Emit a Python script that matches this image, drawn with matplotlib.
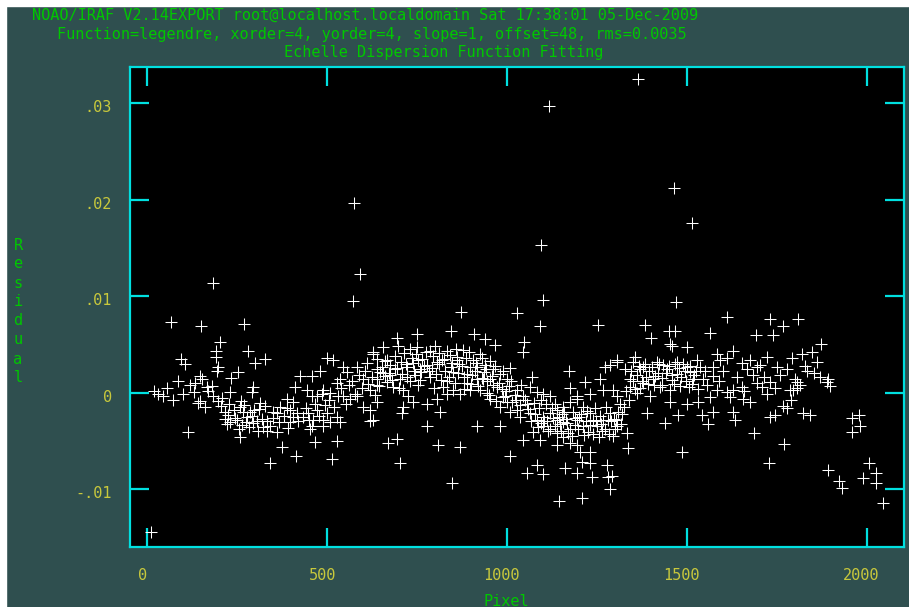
import matplotlib
matplotlib.use("Agg")
import matplotlib.pyplot as plt
from matplotlib.patches import Rectangle
from matplotlib.transforms import ScaledTranslation

# outliers (pixel, residual)
out_pix = [10, 575, 573, 591, 183, 67, 150, 270, 1365, 1117, 1464, 1095, 1514, 1101, 1471,
           872, 1028, 1092, 1253, 1612, 1565, 1384, 1401, 1451, 1468, 1732, 1768, 1810, 1693,
           1740, 1874, 1145, 1209, 1287, 847, 341, 414, 703, 1487, 1729, 1771, 1100, 1083,
           1056, 1162, 1237, 1282, 1195, 1293, 1204, 1232, 1209, 1232, 1279, 1893, 1924, 1932,
           2007, 2026, 1990, 2026, 2046, 1960, 1979, 1982, 1960, 1893, 1899, 1890, 1871]
out_res = [-0.0145, 0.0197, 0.0095, 0.0123, 0.0114, 0.0073, 0.0069, 0.0071, 0.0325, 0.0297,
           0.0212, 0.0153, 0.0176, 0.0096, 0.0094, 0.0084, 0.0083, 0.0069, 0.0070, 0.0078,
           0.0062, 0.0070, 0.0057, 0.0064, 0.0064, 0.0076, 0.0069, 0.0076, 0.0060, 0.0060,
           0.0050, -0.0113, -0.0109, -0.0100, -0.0094, -0.0073, -0.0066, -0.0073, -0.0062,
           -0.0073, -0.0053, -0.0084, -0.0075, -0.0083, -0.0078, -0.0088, -0.0088, -0.0083,
           -0.0087, -0.0062, -0.0062, -0.0072, -0.0073, -0.0075, -0.0080, -0.0092, -0.0099,
           -0.0073, -0.0083, -0.0089, -0.0094, -0.0115, -0.0026, -0.0023, -0.0035, -0.0041,
           0.0014, 0.0007, 0.0011, 0.0016]

# main band, pixels 0-650
band1_pix = [203, 192, 192, 281, 328, 95, 106, 300, 197, 195, 253, 234, 147, 133, 153, 167, 181,
             56, 31, 295, 292, 231, 72, 142, 147, 183, 197, 217, 225, 314, 259, 267, 278, 286,
             231, 264, 295, 114, 259, 334, 342, 323, 334, 361, 361, 370, 350, 389, 375, 467,
             514, 528, 453, 459, 489, 397, 406, 397, 389, 406, 417, 434, 447, 461, 473, 489,
             500, 509, 528, 536, 411, 425, 445, 459, 473, 459, 481, 500, 517, 545, 556, 536,
             528, 509, 489, 486, 545, 564, 584, 600, 620, 639, 584, 611, 628, 639, 600, 620,
             639, 648, 620,
             20, 45, 85, 100, 120, 130, 160, 170, 205, 215, 240, 250, 262, 275, 290, 305, 312,
             350, 365, 380, 392, 420, 440, 450, 465, 478, 495, 505, 520, 530, 540, 552,
             208, 222, 228, 244, 255, 270, 282, 298, 308, 318, 326]
band1_res = [0.0052, 0.0043, 0.0037, 0.0043, 0.0035, 0.0035, 0.0030, 0.0031, 0.0027, 0.0022,
             0.0021, 0.0015, 0.0017, 0.0010, 0.0014, 0.0006, 0.0007, 0.0005, -0.0001, 0.0006,
             0.0001, 0.0001, -0.0008, -0.0011, -0.0009, -0.0004, -0.0009, -0.0020, -0.0023,
             -0.0011, -0.0015, -0.0020, -0.0025, -0.0020, -0.0031, -0.0034, -0.0032, -0.0041,
             -0.0046, -0.0030, -0.0035, -0.0036, -0.0040, -0.0041, -0.0021, -0.0015, -0.0020,
             -0.0016, -0.0056, -0.0051, -0.0069, -0.0050, -0.0038, -0.0035, -0.0035, -0.0031,
             -0.0025, -0.0018, -0.0007, -0.0010, -0.0021, -0.0025, -0.0021, -0.0028, -0.0018,
             -0.0028, -0.0021, -0.0031, -0.0025, -0.0031, 0.0006, 0.0017, 0.0003, -0.0004,
             -0.0004, 0.0017, 0.0022, 0.0036, 0.0034, 0.0026, 0.0021, 0.0014, 0.0010, 0.0000,
             0.0003, -0.0002, -0.0004, -0.0007, -0.0004, -0.0015, -0.0018, -0.0010, 0.0027,
             0.0031, 0.0042, 0.0035, 0.0014, 0.0003, 0.0014, 0.0021, -0.0030,
             0.0002, -0.0004, 0.0012, -0.0002, 0.0008, 0.0001, -0.0015, 0.0002, -0.0014,
             -0.0027, -0.0018, -0.0028, -0.0009, -0.0031, -0.0024, -0.0030, -0.0017, -0.0026,
             -0.0031, -0.0024, -0.0037, -0.0030, -0.0016, -0.0028, -0.0012, -0.0024, -0.0013,
             -0.0008, -0.0015, -0.0004, 0.0005, -0.0012,
             -0.0006, -0.0033, -0.0012, -0.0026, -0.0038, -0.0013, -0.0036, -0.0018, -0.0040,
             -0.0027, -0.0014]

# main band, pixels 650-1310
band2_pix = [751, 695, 845, 909, 940, 967, 1048, 1045, 656, 698, 731, 751, 801, 787, 834, 862,
             878, 628, 667, 676, 639, 753, 740, 723, 759, 778, 806, 820, 848, 862, 906, 931,
             940, 917, 898, 962, 981, 1009, 1000, 954, 1070, 639, 667, 684, 703, 712, 726, 740,
             778, 712, 806, 823, 851, 870, 834, 890, 898, 917, 934, 926, 945, 973, 954, 990,
             1000, 981, 1028, 1045, 1064, 1084, 1101, 1120, 1009, 1037, 1028, 1064, 1084, 1101,
             1120, 1140, 1156, 1176, 1195, 1212, 1232, 1140, 1156, 1176, 1195, 1212, 1251,
             1268, 1287, 1120, 1140, 1156, 1101, 628, 709, 778, 815, 917, 981, 670, 695, 809,
             870, 1009, 1045, 1073, 1092, 1140, 1176, 1195, 1173, 1273, 1287, 1218, 1259, 1306,
             1176, 1195, 1232, 1268, 1295, 1306,
             560, 570, 578, 590, 598, 605, 615, 625, 632, 645, 652, 660, 672, 680, 690, 700,
             708, 718, 730, 745, 752, 762, 770, 785, 792, 798, 812, 818, 828, 840, 845, 855,
             865, 875, 882, 890, 900, 912, 920, 936, 945, 950, 960, 970, 985, 995, 1005, 1015,
             1022, 1035, 1050, 1058, 1068, 1075, 1090, 1096, 1108, 1112, 1128, 1133, 1148,
             1152, 1165, 1170, 1185, 1190, 1200, 1220, 1225, 1240, 1245, 1260, 1265, 1275,
             1298, 1290, 1300, 1310,
             655, 662, 675, 688, 694, 705, 715, 722, 735, 742, 748, 757, 765, 775, 782, 795,
             803, 810, 825, 832, 842, 850, 858, 868, 880, 887, 895, 903, 915, 925, 930, 942,
             952, 958, 968, 978, 988, 998, 1012, 1025, 1040, 1055,
             1078, 1086, 1094, 1104, 1115, 1124, 1135, 1144, 1150, 1160, 1168, 1180, 1188,
             1198, 1206, 1215, 1222, 1230, 1238, 1248, 1255, 1262, 1272, 1280, 1285, 1302]
band2_res = [0.0061, 0.0057, 0.0064, 0.0061, 0.0056, 0.0049, 0.0052, 0.0042, 0.0047, 0.0048,
             0.0045, 0.0047, 0.0048, 0.0043, 0.0043, 0.0037, 0.0044, 0.0040, 0.0034, 0.0029,
             0.0024, 0.0034, 0.0031, 0.0026, 0.0024, 0.0029, 0.0032, 0.0034, 0.0031, 0.0034,
             0.0034, 0.0036, 0.0029, 0.0026, 0.0027, 0.0024, 0.0019, 0.0025, 0.0014, 0.0014,
             0.0016, 0.0008, 0.0011, 0.0006, 0.0014, 0.0003, -0.0004, -0.0010, -0.0012,
             -0.0015, -0.0007, 0.0006, 0.0003, -0.0002, -0.0002, 0.0010, 0.0003, 0.0014,
             0.0014, 0.0003, 0.0000, 0.0006, -0.0007, -0.0005, -0.0010, -0.0015, 0.0003,
             -0.0004, 0.0006, 0.0001, -0.0002, -0.0004, -0.0020, -0.0025, -0.0018, -0.0021,
             -0.0028, -0.0025, -0.0021, -0.0018, -0.0015, -0.0010, -0.0007, -0.0015, -0.0021,
             -0.0028, -0.0031, -0.0038, -0.0028, -0.0035, -0.0035, -0.0028, -0.0021, -0.0038,
             -0.0042, -0.0046, -0.0035, -0.0028, -0.0021, -0.0035, -0.0020, -0.0035, -0.0035,
             -0.0052, -0.0048, -0.0054, -0.0056, -0.0066, -0.0049, -0.0041, -0.0049, -0.0054,
             -0.0052, -0.0054, 0.0022, 0.0026, 0.0029, 0.0011, 0.0014, 0.0032, 0.0005,
             -0.0004, -0.0002, 0.0003, 0.0003, -0.0004,
             0.0008, 0.0012, -0.0001, 0.0018, 0.0005, 0.0022, 0.0009, 0.0016, -0.0003, 0.0007,
             0.0027, 0.0017, 0.0020, 0.0013, 0.0024, 0.0005, 0.0019, 0.0030, 0.0012, 0.0018,
             0.0008, 0.0021, 0.0028, 0.0016, 0.0025, 0.0005, 0.0030, 0.0013, 0.0022, 0.0016,
             0.0027, 0.0010, 0.0020, 0.0028, 0.0004, 0.0019, 0.0009, 0.0022, 0.0007, 0.0021,
             0.0012, -0.0003, 0.0008, -0.0009, 0.0004, -0.0004, 0.0007, -0.0010, -0.0003,
             -0.0013, -0.0008, -0.0017, -0.0029, -0.0011, -0.0016, -0.0032, -0.0012, -0.0030,
             -0.0026, -0.0012, -0.0033, -0.0022, -0.0027, -0.0042, -0.0020, -0.0034, -0.0025,
             -0.0030, -0.0041, -0.0028, -0.0016, -0.0024, -0.0040, -0.0015, -0.0027, -0.0030,
             -0.0038, -0.0020,
             0.0020, 0.0033, 0.0018, 0.0038, 0.0025, 0.0032, 0.0041, 0.0016, 0.0036, 0.0022,
             0.0040, 0.0013, 0.0035, 0.0042, 0.0022, 0.0038, 0.0019, 0.0041, 0.0035, 0.0012,
             0.0039, 0.0021, 0.0045, 0.0030, 0.0016, 0.0036, 0.0042, 0.0018, 0.0031, 0.0040,
             0.0015, 0.0024, 0.0033, 0.0017, 0.0028, 0.0010, 0.0022, 0.0002, 0.0012, -0.0008,
             0.0008, -0.0012,
             -0.0022, -0.0036, -0.0008, -0.0029, -0.0040, -0.0016, -0.0035, -0.0025, -0.0040,
             -0.0020, -0.0032, -0.0045, -0.0026, -0.0038, -0.0022, -0.0044, -0.0019, -0.0034,
             -0.0043, -0.0029, -0.0046, -0.0033, -0.0038, -0.0028, -0.0043, -0.0028]

# main band, pixels 1300-1900
band3_pix = [1454, 1459, 1501, 1306, 1357, 1351, 1329, 1371, 1379, 1418, 1435, 1473, 1501, 1529,
             1537, 1510, 1584, 1593, 1612, 1629, 1573, 1654, 1676, 1704, 1723, 1751, 1668, 1696,
             1793, 1821, 1849, 1863, 1835, 1801, 1807, 1796, 1723, 1343, 1379, 1407, 1426, 1454,
             1343, 1362, 1398, 1518, 1546, 1573, 1584, 1612, 1629, 1654, 1696, 1732, 1454, 1501,
             1532, 1565, 1573, 1629, 1657, 1676, 1390, 1476, 1543, 1440, 1560, 1635, 1732, 1746,
             1768, 1824, 1843, 1687, 1337, 1306, 1334, 1779, 1788, 1807,
             1318, 1325, 1296, 1315, 1320, 1332, 1340, 1350, 1362, 1370, 1388, 1395, 1410, 1420,
             1430, 1445, 1460, 1465, 1478, 1485, 1495, 1505, 1520, 1530, 1550, 1555, 1590, 1600,
             1620, 1640, 1660, 1685, 1710, 1715, 1745, 1760, 1780, 1790, 1815, 1830, 1855,
             1345, 1355, 1366, 1375, 1384, 1392, 1402, 1412, 1424, 1432, 1442, 1450, 1458, 1468,
             1474, 1482, 1490, 1498, 1508, 1515, 1525]
band3_res = [0.0050, 0.0048, 0.0047, 0.0034, 0.0037, 0.0032, 0.0024, 0.0024, 0.0027, 0.0032,
             0.0029, 0.0032, 0.0027, 0.0034, 0.0026, 0.0021, 0.0040, 0.0034, 0.0036, 0.0043,
             0.0027, 0.0031, 0.0034, 0.0029, 0.0037, 0.0027, 0.0024, 0.0026, 0.0036, 0.0040,
             0.0042, 0.0032, 0.0022, 0.0014, 0.0005, 0.0003, -0.0002, 0.0014, 0.0010, 0.0014,
             0.0006, 0.0003, 0.0006, 0.0000, -0.0004, 0.0014, 0.0014, 0.0017, 0.0003, 0.0001,
             0.0003, 0.0006, 0.0010, 0.0011, -0.0010, -0.0012, -0.0010, -0.0005, -0.0020,
             -0.0020, -0.0007, -0.0010, -0.0021, -0.0023, -0.0023, -0.0032, -0.0033, -0.0028,
             -0.0025, -0.0023, -0.0014, -0.0021, -0.0023, -0.0042, -0.0057, -0.0035, -0.0042,
             -0.0016, 0.0003, 0.0011,
             -0.0033, -0.0015, -0.0045, -0.0012, -0.0022, 0.0002, -0.0008, 0.0012, 0.0018,
             0.0005, 0.0016, 0.0022, 0.0008, 0.0020, 0.0015, 0.0024, 0.0018, 0.0009, 0.0025,
             0.0016, 0.0022, 0.0006, 0.0018, 0.0004, 0.0022, 0.0008, 0.0012, 0.0022, -0.0005,
             0.0016, 0.0002, 0.0018, 0.0006, 0.0016, 0.0005, 0.0018, 0.0024, -0.0008, 0.0008,
             0.0028, 0.0020,
             0.0022, 0.0004, 0.0028, 0.0012, 0.0030, 0.0009, 0.0026, 0.0017, 0.0030, 0.0008,
             0.0020, 0.0028, 0.0013, 0.0030, 0.0019, 0.0007, 0.0030, 0.0012, 0.0028, 0.0009,
             0.0022]

title1 = "NOAO/IRAF V2.14EXPORT root@localhost.localdomain Sat 17:38:01 05-Dec-2009"
title2 = "Function=legendre, xorder=4, yorder=4, slope=1, offset=48, rms=0.0035"
title3 = "Echelle Dispersion Function Fitting"
xticks = [0, 500, 1000, 1500, 2000]
yticks = [-0.01, 0, 0.01, 0.02, 0.03]
ytick_labels = ["-.01", "0", ".01", ".02", ".03"]

W, H = 909, 607
slate = "#2f4f4f"
cyan = "#00e0e0"
green = "#00c800"
yellow = "#c8c83c"
mono = "DejaVu Sans Mono"

fig = plt.figure(figsize=(W / 100, H / 100), dpi=100, facecolor=slate)
# white strips along the top and left edges of the screenshot
fig.patches.append(Rectangle((0, 0), 6 / W, 1, transform=fig.transFigure, color="white", zorder=0))
fig.patches.append(Rectangle((0, 1 - 6 / H), 1, 6 / H, transform=fig.transFigure, color="white", zorder=0))

ax = fig.add_axes([130 / W, 1 - 547 / H, 774 / W, 480.3 / H])
ax.set_facecolor("black")

for px, rs in [(out_pix, out_res), (band1_pix, band1_res), (band2_pix, band2_res), (band3_pix, band3_res)]:
    ax.plot(px, rs, "+", color="white", ms=8.5, mew=0.75, linestyle="none")

ax.set_xlim(-48, 2104)
ax.set_ylim(-0.01602, 0.0338)

for s in ax.spines.values():
    s.set_color(cyan)
    s.set_linewidth(1.6)

ax.set_xticks(xticks)
ax.set_xticklabels([str(t) for t in xticks])
ax.set_yticks(yticks)
ax.set_yticklabels(ytick_labels)
ax.tick_params(direction="in", length=13.5, width=1.6, color=cyan,
               top=True, right=True, labelcolor=yellow, labelsize=11)
ax.tick_params(axis="x", pad=15)
ax.tick_params(axis="y", pad=13)
for lbl in ax.get_xticklabels():
    lbl.set_family(mono)
    lbl.set_transform(lbl.get_transform() + ScaledTranslation(-0.05, 0, fig.dpi_scale_trans))
for lbl in ax.get_yticklabels():
    lbl.set_family(mono)
    lbl.set_va("top")
    lbl.set_transform(lbl.get_transform() + ScaledTranslation(0, 0.03, fig.dpi_scale_trans))

# header lines
fig.text(32 / W, 1 - 15 / H, title1, color=green, family=mono, fontsize=11, va="center", ha="left")
fig.text(57 / W, 1 - 34 / H, title2, color=green, family=mono, fontsize=11, va="center", ha="left")
fig.text(284 / W, 1 - 52.5 / H, title3, color=green, family=mono, fontsize=11, va="center", ha="left")

# stacked y label
for k, ch in enumerate("Residual"):
    fig.text(18 / W, 1 - (245 + 19 * k) / H, ch, color=green, family=mono, fontsize=11,
             va="center", ha="center")
fig.text(484 / W, 1 - 601 / H, "Pixel", color=green, family=mono, fontsize=11, va="center", ha="left")

fig.savefig("out.png", dpi=100, facecolor=slate)
